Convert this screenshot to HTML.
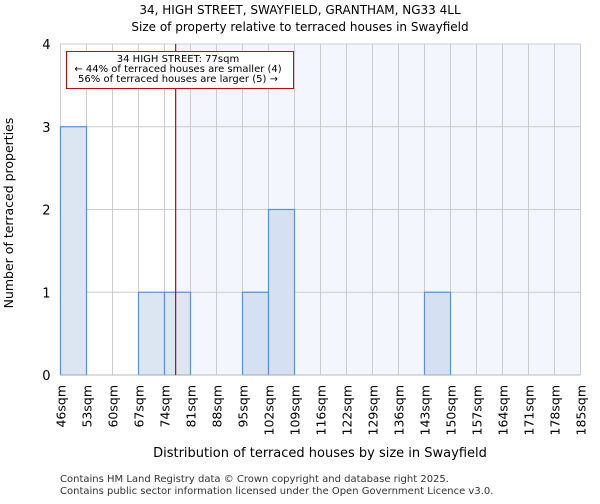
<!DOCTYPE html>
<html><head><meta charset="utf-8"><style>
body{margin:0;background:#fff;font-family:"DejaVu Sans","Liberation Sans",sans-serif;}
svg text{font-family:"DejaVu Sans","Liberation Sans",sans-serif;}
</style></head><body>
<svg width="600" height="500">
<text x="300" y="14" text-anchor="middle" font-size="12">34, HIGH STREET, SWAYFIELD, GRANTHAM, NG33 4LL</text>
<text x="300" y="31" text-anchor="middle" font-size="12">Size of property relative to terraced houses in Swayfield</text>
<g id="plot"></g>
<text x="320" y="457" text-anchor="middle" font-size="13">Distribution of terraced houses by size in Swayfield</text>
<text transform="translate(13,213) rotate(-90)" text-anchor="middle" font-size="12.5">Number of terraced properties</text>
<text x="60" y="482" font-size="10" fill="#333">Contains HM Land Registry data © Crown copyright and database right 2025.</text>
<text x="60" y="494" font-size="10" fill="#333">Contains public sector information licensed under the Open Government Licence v3.0.</text>
</svg>
<script>
const binLabels=["46sqm","53sqm","60sqm","67sqm","74sqm","81sqm","88sqm","95sqm","102sqm","109sqm","116sqm","122sqm","129sqm","136sqm","143sqm","150sqm","157sqm","164sqm","171sqm","178sqm","185sqm"];
const counts=[3,0,0,1,1,0,0,1,2,0,0,0,0,0,1,0,0,0,0,0];
const yTicks=[0,1,2,3,4];
const propertySize=77;
const binStart=46, binWidth=7;
const NS="http://www.w3.org/2000/svg";
const g=document.getElementById('plot');
const L=60.5,R=580.5,T=44,B=375,nb=counts.length;
const bw=(R-L)/nb;
const xs=v=>L+(v-binStart)/binWidth*bw;
const ys=v=>B-(v/4)*(B-T);
function el(t,a){const e=document.createElementNS(NS,t);for(const k in a)e.setAttribute(k,a[k]);g.appendChild(e);return e;}
const px=xs(propertySize);
let r=el('rect',{x:px,y:T,width:R-px,height:B-T,fill:'#f3f6fd'});


for(let i=0;i<=nb;i++){const l=el('line',{x1:L+i*bw,x2:L+i*bw,y1:T,y2:B,stroke:'#cccccc'});

}
yTicks.forEach(v=>{const l=el('line',{x1:L,x2:R,y1:ys(v),y2:ys(v),stroke:'#cccccc'});


const t=el('text',{x:L-10,y:ys(v)+5,'text-anchor':'end','font-size':'13'});t.textContent=v;

});
counts.forEach((c,i)=>{if(!c)return;const x=L+i*bw;
const b=el('rect',{x:x,y:ys(c),width:bw,height:B-ys(c),fill:x>=px?'#d5e1f3':'#dce6f3',stroke:'#5a8fd8','stroke-width':1.2});

});
el('line',{x1:L,x2:R,y1:B,y2:B,stroke:'#bbb'});
binLabels.forEach((s,i)=>{const x=L+i*bw;const t=el('text',{transform:`translate(${x+5},${B+10}) rotate(-90)`,'text-anchor':'end','font-size':'12.5'});t.textContent=s;

});
const m=el('line',{x1:px,x2:px,y1:T,y2:B,stroke:'#cc0000','stroke-width':1.2});


const bx=el('rect',{x:66.5,y:51.5,width:227,height:37,fill:'#fff',stroke:'#cc0000'});


["34 HIGH STREET: 77sqm","← 44% of terraced houses are smaller (4)","56% of terraced houses are larger (5) →"].forEach((s,i)=>{
const t=el('text',{x:178,y:62+i*10,'text-anchor':'middle','font-size':'10'});t.textContent=s;

});
</script>
</body></html>
